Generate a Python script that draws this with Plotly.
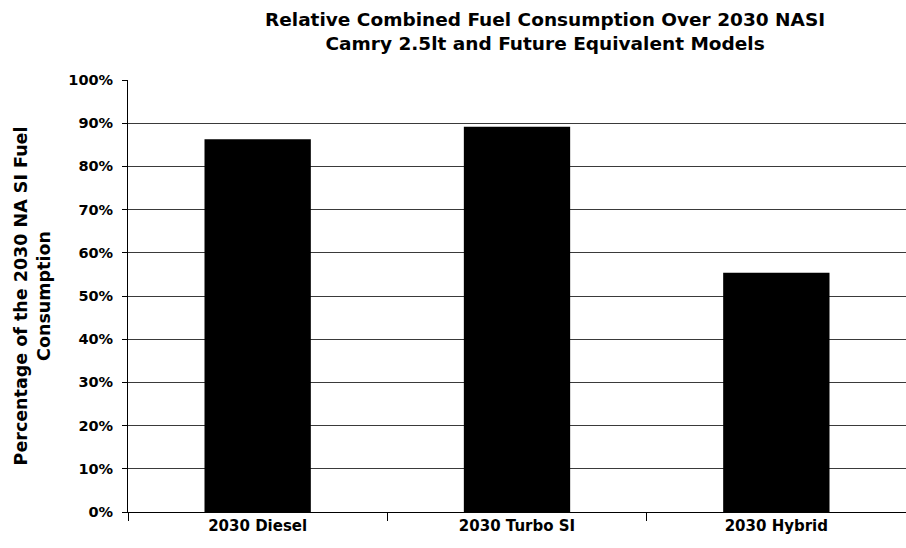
import plotly.graph_objects as go

# Relative combined fuel consumption, as a fraction of the 2030 NA SI model
models = ["2030 Diesel", "2030 Turbo SI", "2030 Hybrid"]
relative_consumption = [0.863, 0.892, 0.554]

tick_values = [0, 0.1, 0.2, 0.3, 0.4, 0.5, 0.6, 0.7, 0.8, 0.9, 1.0]
tick_labels = ["0%", "10%", "20%", "30%", "40%", "50%", "60%", "70%", "80%", "90%", "100%"]

title_text = "Relative Combined Fuel Consumption Over 2030 NASI<br>Camry 2.5lt and Future Equivalent Models"
y_title_text = "Percentage of the 2030 NA SI Fuel<br>Consumption"

font_family = "DejaVu Sans, Liberation Sans, Arial, sans-serif"

fig = go.Figure(
    go.Bar(
        x=models,
        y=relative_consumption,
        width=0.41,
        marker=dict(color="#000000", line=dict(width=0)),
    )
)

fig.update_layout(
    width=906,
    height=548,
    margin=dict(l=128, r=0, t=80, b=36),
    paper_bgcolor="white",
    plot_bgcolor="white",
    showlegend=False,
    font=dict(family=font_family, color="#000000"),
    annotations=[
        dict(
            text=f"<b>{title_text}</b>",
            xref="paper", yref="paper",
            x=0.536, y=1.169,
            xanchor="center", yanchor="top",
            showarrow=False,
            align="center",
            font=dict(size=18.5, family=font_family, color="#000000"),
        )
    ],
)

fig.update_xaxes(
    type="category",
    range=[-0.5, 2.5],
    showline=True, linecolor="#000000", linewidth=1,
    ticks="outside", tickson="boundaries", ticklen=8, tickcolor="#000000",
    tickfont=dict(size=15, family=font_family),
    tickprefix="<b>", ticksuffix="</b>",
    showgrid=False,
    zeroline=False,
)

fig.update_yaxes(
    range=[0, 1.0],
    tickvals=tick_values,
    ticktext=[f"<b>{t}</b>" for t in tick_labels],
    tickfont=dict(size=14.5, family=font_family),
    showline=True, linecolor="#000000", linewidth=1,
    ticks="outside", ticklen=5, tickcolor="#000000",
    ticklabelstandoff=6,
    showgrid=True, gridcolor="#3a3a3a", gridwidth=1,
    zeroline=False,
    title=dict(
        text=f"<b>{y_title_text}</b>",
        font=dict(size=17.5, family=font_family),
        standoff=13,
    ),
)

fig.write_html("out.html")
